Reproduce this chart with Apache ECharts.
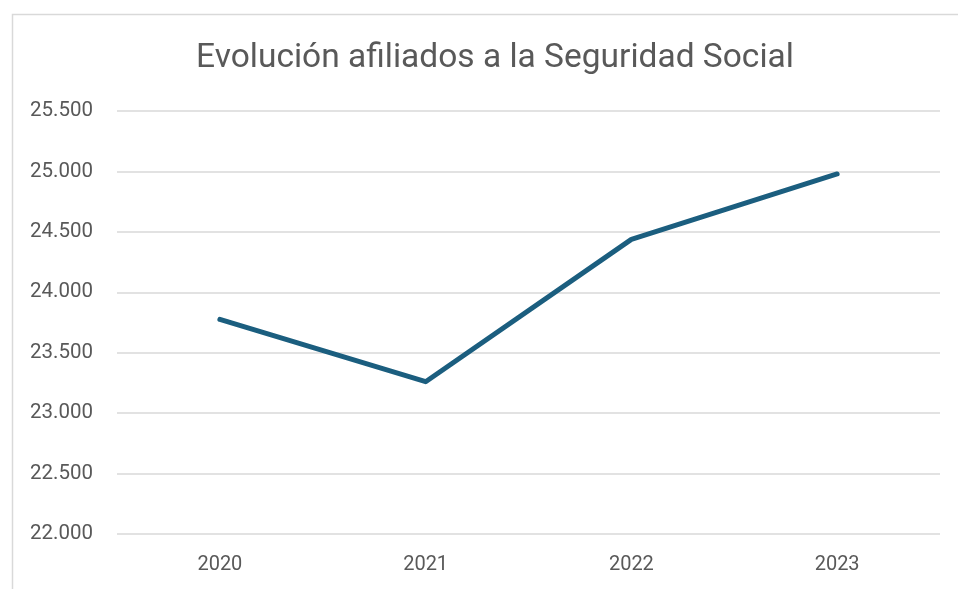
<!DOCTYPE html>
<html>
<head>
<meta charset="utf-8">
<script src="https://cdn.jsdelivr.net/npm/echarts@6/dist/echarts.min.js"></script>
<style>
  html, body { margin: 0; padding: 0; background: #fff; }
  #chart { width: 958px; height: 589px; }
</style>
</head>
<body>
<div id="chart"></div>
<script>
// datos (miles de afiliados)
var years = ['2020', '2021', '2022', '2023'];
var afiliados = [23776, 23260, 24438, 24979];
var yTicks = { min: 22000, max: 25500, step: 500 };

// 25500 -> "25.500"
function miles(v){
    return String(v).replace(/\B(?=(\d{3})+(?!\d))/g, '.');
}

var myChart = echarts.init(document.getElementById('chart'));
myChart.setOption({
    animation: false,
    textStyle: { fontFamily: 'Roboto' },
    title: {
        text: 'Evolución afiliados a la Seguridad Social',
        left: 490,
        textAlign: 'center',
        top: 37,
        textStyle: { fontSize: 33.5, fontWeight: 'normal', color: '#595959', fontFamily: 'Roboto' }
    },
    // marco del gráfico
    graphic: [{
        type: 'rect',
        left: 10, top: 12,
        shape: { width: 980, height: 620 },
        style: { fill: 'none', stroke: '#d9d9d9', lineWidth: 1.5 },
        silent: true
    }],
    grid: { left: 117, right: 18, top: 111, bottom: 55 },
    xAxis: {
        type: 'category',
        data: years,
        axisLine: { show: false },
        axisTick: { show: false },
        axisLabel: { color: '#595959', fontSize: 20, margin: 21 }
    },
    yAxis: {
        type: 'value',
        min: yTicks.min,
        max: yTicks.max,
        interval: yTicks.step,
        axisLine: { show: false },
        axisTick: { show: false },
        axisLabel: { color: '#595959', fontSize: 20.5, margin: 24, formatter: miles },
        splitLine: { lineStyle: { color: '#d9d9d9', width: 1.5 } }
    },
    series: [{
        type: 'line',
        data: afiliados,
        symbol: 'none',
        lineStyle: { color: '#1b5e7f', width: 5, cap: 'round', join: 'round' }
    }]
});
</script>
</body>
</html>
